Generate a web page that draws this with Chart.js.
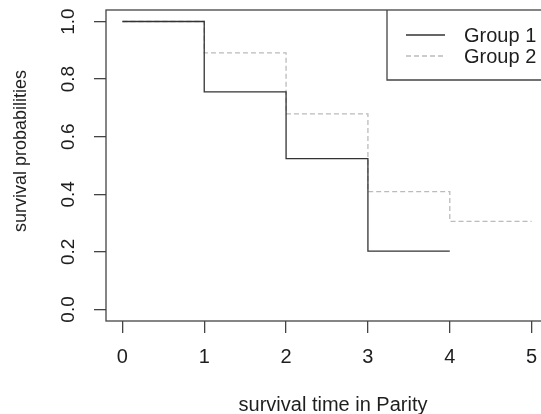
<!DOCTYPE html>
<html>
<head>
<meta charset="utf-8">
<script src="https://cdn.jsdelivr.net/npm/chart.js@4.4.1/dist/chart.umd.min.js"></script>
<style>
  html, body { margin: 0; padding: 0; background: #fff; overflow: hidden; }
  #wrap { position: absolute; left: 0; top: 0; width: 560px; height: 414px; }
</style>
</head>
<body>
<div id="wrap"><canvas id="km"></canvas></div>
<script>
// survival time (parity) and survival probabilities
const times1 = [0, 1, 2, 3, 4];
const surv1 = [1.0, 0.756, 0.524, 0.203, 0.203];
const times2 = [0, 1, 2, 3, 4, 5];
const surv2 = [1.0, 0.891, 0.679, 0.409, 0.306, 0.306];
const xTicks = [0, 1, 2, 3, 4, 5];
const yTicks = [0.0, 0.2, 0.4, 0.6, 0.8, 1.0];
const groupNames = ['Group 1', 'Group 2'];

const FONT = '"Liberation Sans", Arial, sans-serif';
const INK = '#1e1e1e';

const toPoints = (xs, ys) => xs.map((x, i) => ({ x: x, y: ys[i] }));

// box round the plot, rotated y labels, titles and legend (R base style)
const rStylePlugin = {
  id: 'rStyle',
  afterDraw(chart) {
    const { ctx, chartArea, scales } = chart;
    ctx.save();
    ctx.strokeStyle = '#444';
    ctx.lineWidth = 1.3;
    ctx.strokeRect(chartArea.left, chartArea.top, chartArea.right - chartArea.left, chartArea.bottom - chartArea.top);

    ctx.fillStyle = INK;
    ctx.textAlign = 'center';
    ctx.textBaseline = 'middle';

    // y tick labels, turned like R's las = 0
    ctx.font = '19px ' + FONT;
    yTicks.forEach(v => {
      const y = scales.y.getPixelForValue(v);
      ctx.save();
      ctx.translate(69, y);
      ctx.rotate(-Math.PI / 2);
      ctx.fillText(v.toFixed(1), 0, 0);
      ctx.restore();
    });

    // axis titles
    ctx.font = '18px ' + FONT;
    ctx.save();
    ctx.translate(21, 151);
    ctx.rotate(-Math.PI / 2);
    ctx.fillText('survival probabilities', 0, 0);
    ctx.restore();
    ctx.font = '20px ' + FONT;
    ctx.fillText('survival time in Parity', 333, 405);

    // legend box in the top right corner
    const lx = 387, ly = chartArea.top, lb = 80;
    ctx.strokeStyle = '#444';
    ctx.lineWidth = 1.3;
    ctx.beginPath();
    ctx.moveTo(lx, ly);
    ctx.lineTo(lx, lb);
    ctx.lineTo(chartArea.right, lb);
    ctx.stroke();

    ctx.textAlign = 'left';
    const rows = [35, 56];
    chart.data.datasets.forEach((ds, i) => {
      ctx.strokeStyle = ds.borderColor;
      ctx.lineWidth = ds.borderWidth;
      ctx.setLineDash(ds.borderDash || []);
      ctx.beginPath();
      ctx.moveTo(406, rows[i]);
      ctx.lineTo(445, rows[i]);
      ctx.stroke();
      ctx.setLineDash([]);
      ctx.fillStyle = INK;
      ctx.fillText(groupNames[i], 464, rows[i] + 1);
    });
    ctx.restore();
  }
};

new Chart(document.getElementById('km'), {
  type: 'line',
  data: {
    datasets: [
      {
        label: groupNames[0],
        data: toPoints(times1, surv1),
        stepped: true,
        borderColor: '#333',
        borderWidth: 1.3,
        pointRadius: 0,
        fill: false
      },
      {
        label: groupNames[1],
        data: toPoints(times2, surv2),
        stepped: true,
        borderColor: '#bbb',
        borderWidth: 1.3,
        borderDash: [5, 3],
        pointRadius: 0,
        fill: false
      }
    ]
  },
  options: {
    responsive: true,
    maintainAspectRatio: false,
    animation: false,
    layout: { padding: { left: 0, top: 10, right: 12, bottom: 0 } },
    plugins: { legend: { display: false }, tooltip: { enabled: false } },
    scales: {
      x: {
        type: 'linear',
        min: -0.2,
        max: 5.2,
        afterBuildTicks: s => { s.ticks = xTicks.map(v => ({ value: v })); },
        afterFit: s => { s.height = 93; },
        border: { display: false },
        grid: { drawOnChartArea: false, drawTicks: true, tickLength: 12, color: '#444', lineWidth: 1.3 },
        ticks: { color: INK, font: { family: FONT, size: 20 }, padding: 12, maxRotation: 0 }
      },
      y: {
        type: 'linear',
        min: -0.04,
        max: 1.04,
        afterBuildTicks: s => { s.ticks = yTicks.map(v => ({ value: v })); },
        afterFit: s => { s.width = 106; },
        border: { display: false },
        grid: { drawOnChartArea: false, drawTicks: true, tickLength: 12, color: '#444', lineWidth: 1.3 },
        ticks: { display: false }
      }
    }
  },
  plugins: [rStylePlugin]
});
</script>
</body>
</html>
